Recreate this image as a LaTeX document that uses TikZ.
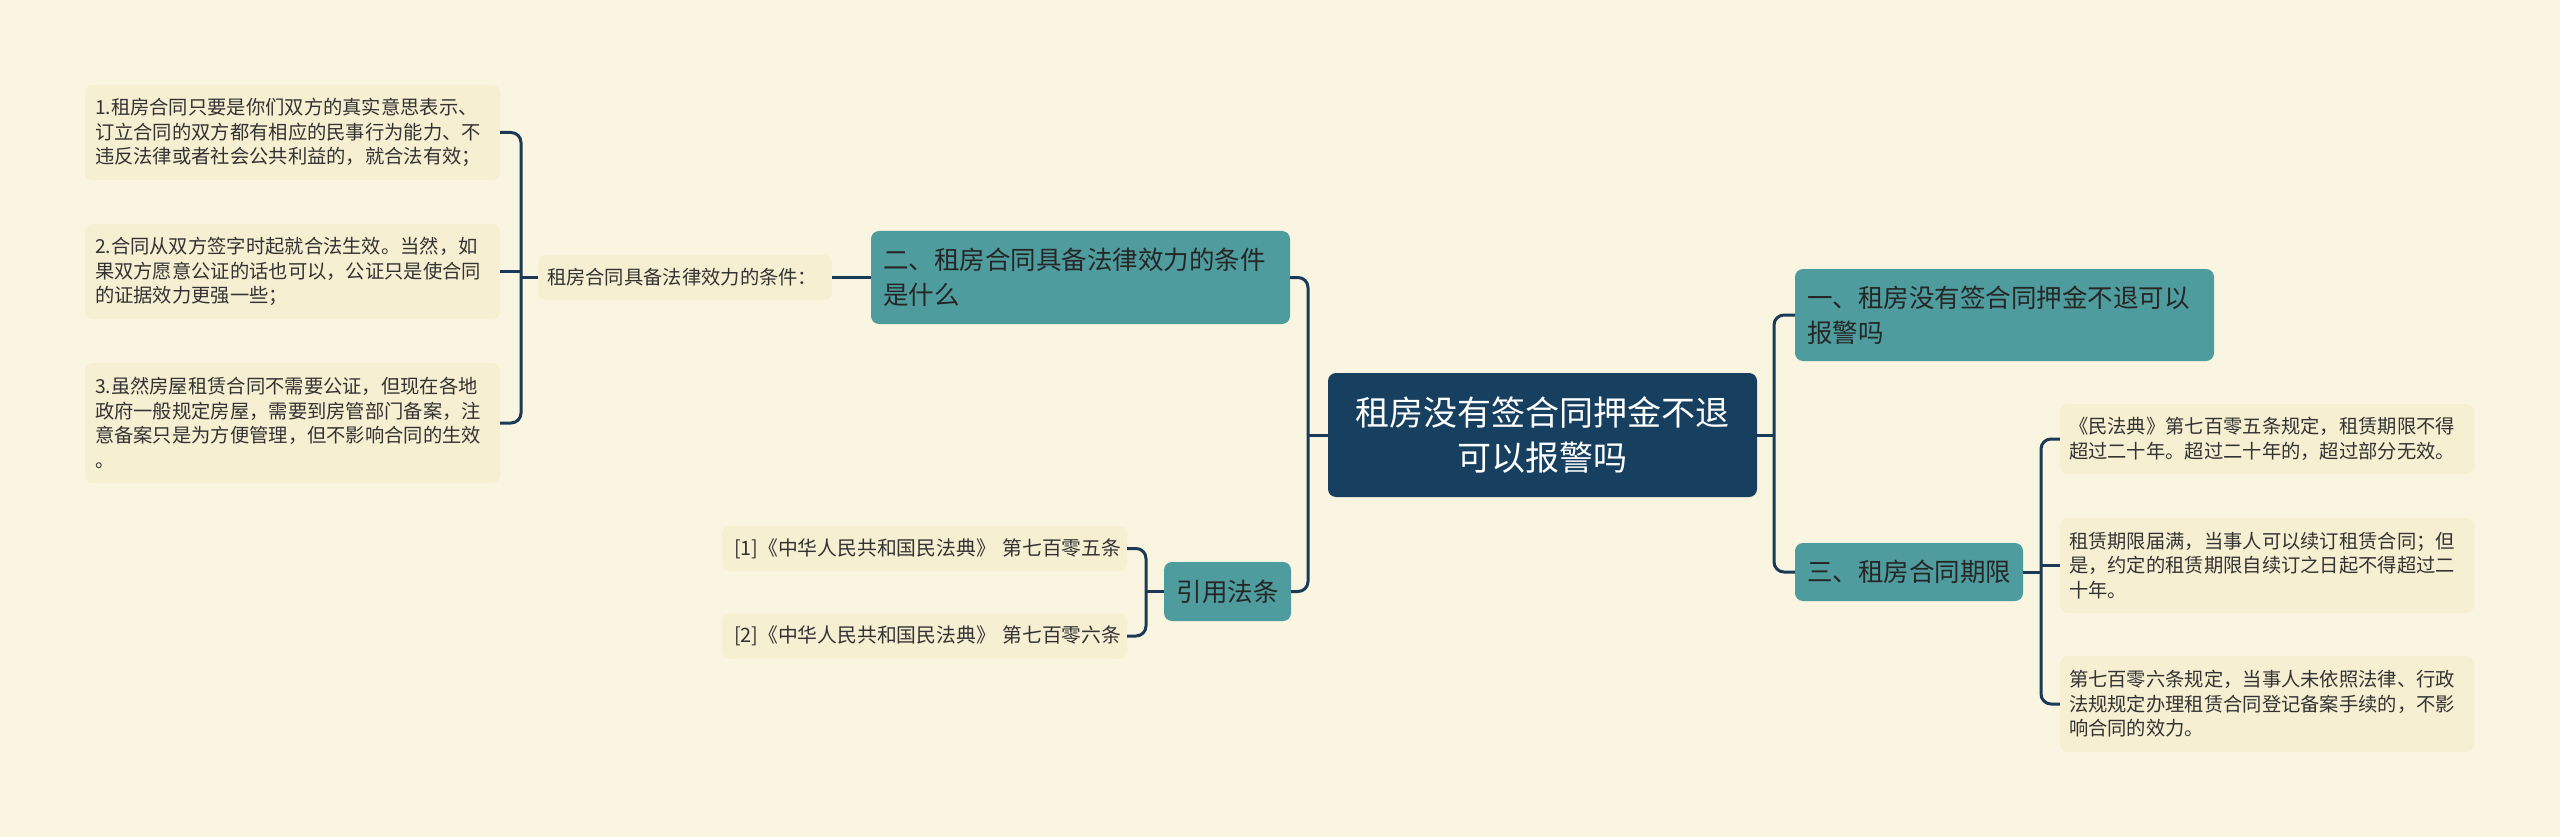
\documentclass[tikz,border=0pt]{standalone}
\usepackage{fontspec}
\setmainfont{Noto Sans CJK SC}
\definecolor{bgc}{HTML}{FAF5E0}
\definecolor{leafc}{HTML}{F6EFD2}
\definecolor{branchc}{HTML}{4E9C9D}
\definecolor{rootc}{HTML}{173F5F}
\definecolor{linec}{HTML}{1B3A57}

\begin{document}
\begin{tikzpicture}[x=1pt,y=-1pt,
    leafbox/.style={rectangle,rounded corners=8pt,fill=leafc,text=black!80,align=left,
      inner xsep=10pt,inner ysep=0pt,font=\fontsize{19.3}{24.5}\selectfont},
    branchbox/.style={rectangle,rounded corners=8pt,fill=branchc,text=black!85,align=left,
      inner xsep=12pt,inner ysep=0pt,font=\fontsize{25.5}{35}\selectfont},
    rootbox/.style={rectangle,rounded corners=8pt,fill=rootc,text=white,align=center,
      inner sep=0pt,font=\fontsize{34}{45}\selectfont},
    link/.style={draw=linec,line width=3pt,rounded corners=10pt}]

\useasboundingbox (0,0) rectangle (2560,837);
\fill[bgc] (0,0) rectangle (2560,837);

% centre
\node[rootbox,minimum width=429pt,minimum height=124pt] (root) at (1542.5,435)
  {租房没有签合同押金不退\\可以报警吗};

% left side
\node[branchbox,text width=395pt,minimum height=93pt] (two) at (1080.5,277.5)
  {二、租房合同具备法律效力的条件\\是什么};
\node[leafbox,inner xsep=9pt,text width=276pt,minimum height=45pt] (cond) at (685,277.5)
  {租房合同具备法律效力的条件：};
\node[leafbox,text width=395pt,minimum height=95pt] (l1) at (292.5,132.5)
  {1.租房合同只要是你们双方的真实意思表示、\\订立合同的双方都有相应的民事行为能力、不\\违反法律或者社会公共利益的，就合法有效；};
\node[leafbox,text width=395pt,minimum height=95pt] (l2) at (292.5,271.5)
  {2.合同从双方签字时起就合法生效。当然，如\\果双方愿意公证的话也可以，公证只是使合同\\的证据效力更强一些；};
\node[leafbox,text width=395pt,minimum height=120pt] (l3) at (292.5,423)
  {3.虽然房屋租赁合同不需要公证，但现在各地\\政府一般规定房屋，需要到房管部门备案，注\\意备案只是为方便管理，但不影响合同的生效\\。};

\node[branchbox,align=center,inner xsep=0pt,minimum width=127pt,minimum height=59pt] (cite) at (1227.5,591.5)
  {引用法条};
\node[leafbox,inner xsep=12pt,text width=381pt,minimum height=45pt,font=\fontsize{19.8}{26}\selectfont] (c1) at (924.5,548.5)
  {[1]《中华人民共和国民法典》~第七百零五条};
\node[leafbox,inner xsep=12pt,text width=381pt,minimum height=45pt,font=\fontsize{19.8}{26}\selectfont] (c2) at (924.5,636)
  {[2]《中华人民共和国民法典》~第七百零六条};

% right side
\node[branchbox,text width=395pt,minimum height=92pt] (one) at (2004.5,315)
  {一、租房没有签合同押金不退可以\\报警吗};
\node[branchbox,text width=204pt,minimum height=58pt] (three) at (1909,572)
  {三、租房合同期限};
\node[leafbox,inner xsep=9pt,text width=396pt,minimum height=70pt] (r1) at (2267,439)
  {《民法典》第七百零五条规定，租赁期限不得\\超过二十年。超过二十年的，超过部分无效。};
\node[leafbox,inner xsep=9pt,text width=396pt,minimum height=95pt] (r2) at (2267,565.5)
  {租赁期限届满，当事人可以续订租赁合同；但\\是，约定的租赁期限自续订之日起不得超过二\\十年。};
\node[leafbox,inner xsep=9pt,text width=396pt,minimum height=96pt] (r3) at (2267,704)
  {第七百零六条规定，当事人未依照法律、行政\\法规规定办理租赁合同登记备案手续的，不影\\响合同的效力。};

% junctions
\coordinate (jl) at (1308,435);
\coordinate (jr) at (1774,435);
\coordinate (jc) at (521,277.5);
\coordinate (jy) at (1146,591.5);
\coordinate (jt) at (2041,572);

\draw[link] (root.west) -- (jl);
\draw[link] (two.east) -| (jl) |- (cite.east);
\draw[link] (root.east) -- (jr);
\draw[link] (one.west) -| (jr) |- (three.west);
\draw[link] (cond.east) -- (two.west);
\draw[link] (cond.west) -- (jc);
\draw[link] (l1.east) -| (jc) |- (l3.east);
\draw[link] (l2.east) -- (l2.east -| jc);
\draw[link] (cite.west) -- (jy);
\draw[link] (c1.east) -| (jy) |- (c2.east);
\draw[link] (three.east) -- (jt);
\draw[link] (r1.west) -| (jt) |- (r3.west);
\draw[link] (r2.west) -- (r2.west -| jt);
\end{tikzpicture}
\end{document}
